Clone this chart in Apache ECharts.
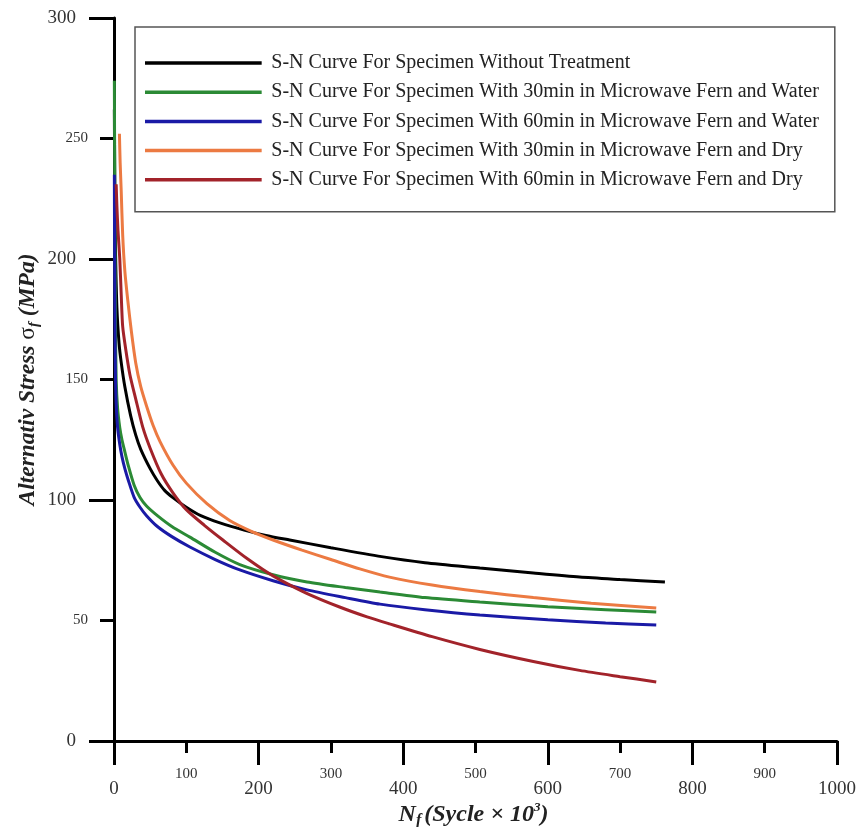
<!DOCTYPE html>
<html>
<head>
<meta charset="utf-8">
<script src="https://cdn.jsdelivr.net/npm/echarts@6/dist/echarts.min.js"></script>
<style>html,body{margin:0;padding:0;background:#fff}#c{width:857px;height:827px}</style>
</head>
<body>
<div id="c"></div>
<script>
const seriesNames = [
  'S-N Curve For Specimen Without Treatment',
  'S-N Curve For Specimen With 30min in Microwave Fern and Water',
  'S-N Curve For Specimen With 60min in Microwave Fern and Water',
  'S-N Curve For Specimen With 30min in Microwave Fern and Dry',
  'S-N Curve For Specimen With 60min in Microwave Fern and Dry'
];
const seriesColors = ['#000000', '#2b8a35', '#1a1aa6', '#ec7a42', '#a2232a'];

const untreated = [[0.5,262],[1,235],[2,205],[4,180],[7,165],[10,157],[15,147],[23,135],[30,127],[37,121],[50,113],[60,108],[70,104],[81.5,101],[100,97],[120,93.5],[146.5,90.5],[180,87.5],[210,85.3],[243,83.4],[300,80.2],[370,76.5],[430,74],[506,71.8],[580,69.7],[644,68],[700,67],[762,66]];
const fernWater30 = [[0.5,274],[1,235],[1.5,200],[2,175],[3,150],[5,138],[8,130],[11,125],[15,120],[20,114],[28,106],[36,101],[45,97.5],[60,93.5],[80,89],[105,84.6],[140,78.3],[174,73.2],[220,69],[267,66],[320,63.7],[368,61.8],[430,59.5],[506,57.7],[600,55.7],[680,54.5],[750,53.5]];
const fernWater60 = [[0.5,235],[1,190],[1.5,165],[2,152],[3,140],[5,130],[8,123],[11,118],[15,113],[20,108],[28,101],[36,97],[45,93.5],[60,89],[80,84.8],[105,80.5],[140,75.3],[174,71],[220,66.5],[267,62.7],[320,59.5],[368,56.8],[430,54.5],[506,52.3],[600,50.3],[680,49],[750,48.1]];
const fernDry30 = [[7.5,252],[8.5,240],[10,228],[12,210],[15,195],[19,183],[24,170],[30,157],[37,147],[45,139],[54,131],[64,124],[81.5,114.5],[100,107],[128.5,98.5],[160,91.5],[190,87],[220,83.4],[260,79.2],[300,75.3],[340,71.4],[381,68],[440,64.7],[506,62],[580,59.5],[660,57.2],[750,55.2]];
const fernDry60 = [[3,231],[4,222],[5.5,212],[8,200],[10,185],[12,172],[16,163],[22,152],[30,142],[40,130],[50,121.5],[65,111],[81.5,103],[100,96],[125,89.5],[150.6,83.4],[185,75.5],[220,68.5],[265,61.5],[312,55.6],[350,51.5],[381,48.6],[440,43.3],[506,38],[580,33],[644,29.3],[700,26.7],[750,24.5]];
const seriesData = [untreated, fernWater30, fernWater60, fernDry30, fernDry60];

const xMajorTicks = [0, 200, 400, 600, 800, 1000];
const xMinorTicks = [100, 300, 500, 700, 900];
const yMajorTicks = [0, 100, 200, 300];
const yMinorTicks = [50, 150, 250];

const serif = 'Liberation Serif';
const chart = echarts.init(document.getElementById('c'), null, {renderer: 'canvas'});
const lineStyleAxis = {color: '#000', width: 3};

chart.setOption({
  animation: false,
  backgroundColor: '#fff',
  grid: {left: 114, right: 20, top: 18, bottom: 86, containLabel: false, outerBoundsMode: 'none'},
  legend: {
    orient: 'vertical', left: 135, top: 27,
    icon: 'path://M0,0 L100,0 L100,3 L0,3 Z',
    itemWidth: 118, itemHeight: 3.5, itemGap: 9.2,
    padding: [26, 16, 22, 10],
    borderColor: '#555', borderWidth: 1.5, backgroundColor: '#fff',
    textStyle: {fontFamily: serif, fontSize: 20, color: '#222', lineHeight: 20, padding: [0, 0, 0, 4]},
    data: seriesNames
  },
  xAxis: [{
    type: 'value', min: 0, max: 1000, interval: 200,
    axisLine: {show: true, lineStyle: lineStyleAxis},
    axisTick: {show: true, length: 24, lineStyle: {color: '#000', width: 3}},
    axisLabel: {fontFamily: serif, fontSize: 19, color: '#333', margin: 39,
      formatter: v => xMajorTicks.includes(v) ? String(v) : ''},
    splitLine: {show: false},
    name: '{b|N}{bs|f}{b|(Sycle × 10}{bp|3}{b|)}',
    nameLocation: 'middle', nameGap: 60, nameMoveOverlap: false,
    nameTextStyle: {
      padding: [0, 4, 0, 0],
      rich: {
        b: {fontFamily: serif, fontSize: 24, fontWeight: 'bold', fontStyle: 'italic', color: '#222', verticalAlign: 'middle', lineHeight: 28},
        bs: {fontFamily: serif, fontSize: 16, fontWeight: 'bold', fontStyle: 'italic', color: '#222', verticalAlign: 'bottom', lineHeight: 28, padding: [0, 3, 0, 0]},
        bp: {fontFamily: serif, fontSize: 13, fontWeight: 'bold', fontStyle: 'italic', color: '#222', verticalAlign: 'top', lineHeight: 28}
      }
    }
  }, {
    type: 'value', min: 0, max: 1000, interval: 100, position: 'bottom',
    axisLine: {show: false},
    axisTick: {show: true, length: 12, lineStyle: {color: '#000', width: 3}},
    axisLabel: {fontFamily: serif, fontSize: 15, color: '#333', margin: 26,
      formatter: v => xMinorTicks.includes(v) ? String(v) : ''},
    splitLine: {show: false}
  }],
  yAxis: [{
    type: 'value', min: 0, max: 300, interval: 100,
    axisLine: {show: true, lineStyle: lineStyleAxis},
    axisTick: {show: true, length: 25, lineStyle: {color: '#000', width: 3}},
    axisLabel: {fontFamily: serif, fontSize: 19, color: '#333', margin: 38,
      formatter: v => yMajorTicks.includes(v) ? String(v) : ''},
    splitLine: {show: false},
    name: '{b|Alternativ Stress }{g|σ}{s|f}{b| (MPa)}',
    nameLocation: 'middle', nameGap: 72, nameRotate: 90, nameMoveOverlap: false,
    nameTextStyle: {
      rich: {
        b: {fontFamily: serif, fontSize: 23.5, fontWeight: 'bold', fontStyle: 'italic', color: '#222', verticalAlign: 'middle', lineHeight: 28},
        g: {fontFamily: serif, fontSize: 23.5, color: '#222', verticalAlign: 'middle', lineHeight: 28},
        s: {fontFamily: serif, fontSize: 15, fontWeight: 'bold', fontStyle: 'italic', color: '#222', verticalAlign: 'bottom', lineHeight: 28}
      }
    }
  }, {
    type: 'value', min: 0, max: 300, interval: 50, position: 'left',
    axisLine: {show: false},
    axisTick: {show: true, length: 14, lineStyle: {color: '#000', width: 3}},
    axisLabel: {fontFamily: serif, fontSize: 15, color: '#333', margin: 26,
      formatter: v => yMinorTicks.includes(v) ? String(v) : ''},
    splitLine: {show: false}
  }],
  series: seriesData.map((d, i) => ({
    name: seriesNames[i], type: 'line', data: d,
    xAxisIndex: 0, yAxisIndex: 0,
    smooth: 0.25,
    symbol: 'none', clip: false,
    lineStyle: {color: seriesColors[i], width: 3},
    itemStyle: {color: seriesColors[i]},
    z: 3 + i
  }))
});
</script>
</body>
</html>
